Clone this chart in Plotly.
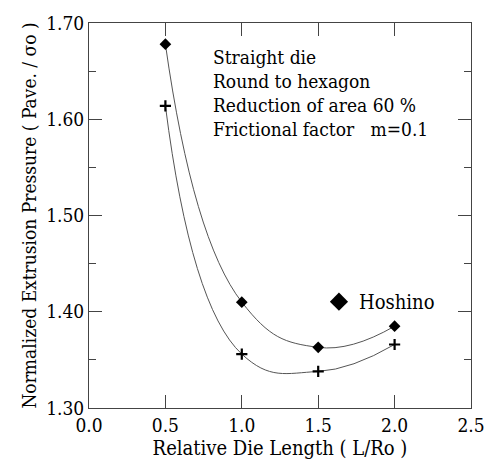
import plotly.graph_objects as go

# Data
length_ratio = [0.5, 1.0, 1.5, 2.0]
pressure_hoshino = [1.678, 1.410, 1.363, 1.385]
pressure_present = [1.614, 1.356, 1.338, 1.366]

condition_lines = ["Straight die", "Round to hexagon", "Reduction of area 60 %",
                   "Frictional factor   m=0.1"]

FONT = "'DejaVu Serif Condensed', 'DejaVu Serif', serif"
LINE_COLOR = "#555555"

fig = go.Figure()

fig.add_trace(go.Scatter(
    x=length_ratio, y=pressure_hoshino, mode="lines+markers",
    line=dict(shape="spline", smoothing=1.3, color=LINE_COLOR, width=1),
    marker=dict(symbol="diamond", size=9, color="black"),
    showlegend=False, name="Hoshino"))

fig.add_trace(go.Scatter(
    x=length_ratio, y=pressure_present, mode="lines+markers",
    line=dict(shape="spline", smoothing=1.3, color=LINE_COLOR, width=1),
    marker=dict(symbol="cross-thin", size=8, color="black",
                line=dict(width=2.2, color="black")),
    showlegend=False, name="Present"))

# legend-only entry with larger symbol
fig.add_trace(go.Scatter(
    x=[None], y=[None], mode="markers",
    marker=dict(symbol="diamond", size=14, color="black"),
    name="Hoshino", showlegend=True))

for i, txt in enumerate(condition_lines):
    fig.add_annotation(
        x=0.32, y=(408 - (52 + 24.3 * i)) / 391, xref="paper", yref="paper",
        text=txt, showarrow=False, xanchor="left", yanchor="middle",
        font=dict(family=FONT, size=19, color="black"))

fig.update_layout(
    width=497, height=467, autosize=False,
    margin=dict(l=89, r=14, t=17, b=59),
    paper_bgcolor="white", plot_bgcolor="white",
    font=dict(family=FONT, size=19, color="black"),
    legend=dict(x=0.602, y=(408 - 300) / 391, xanchor="left", yanchor="middle",
                bgcolor="rgba(0,0,0,0)", borderwidth=0,
                font=dict(family=FONT, size=20, color="black")),
)

fig.update_xaxes(
    range=[0, 2.5], dtick=0.5, tick0=0, tickformat=".1f",
    ticks="inside", ticklen=13, tickwidth=1, tickcolor="#444",
    showline=True, linecolor="#444", linewidth=1, mirror="ticks",
    showgrid=False, zeroline=False,
    tickfont=dict(family=FONT, size=19),
    title=dict(text="Relative Die Length ( L/Ro )", standoff=2,
               font=dict(family=FONT, size=20)))

fig.update_yaxes(
    range=[1.30, 1.70], dtick=0.1, tick0=1.3, tickformat=".2f",
    ticks="inside", ticklen=13, tickwidth=1, tickcolor="#444",
    minor=dict(dtick=0.05, ticks="inside", ticklen=7, tickcolor="#444", showgrid=False),
    showline=True, linecolor="#444", linewidth=1, mirror="ticks",
    showgrid=False, zeroline=False,
    tickfont=dict(family=FONT, size=19),
    title=dict(text="Normalized Extrusion Pressure ( Pave. / σo )", standoff=4,
               font=dict(family=FONT, size=19)))

fig.write_html("out.html")
